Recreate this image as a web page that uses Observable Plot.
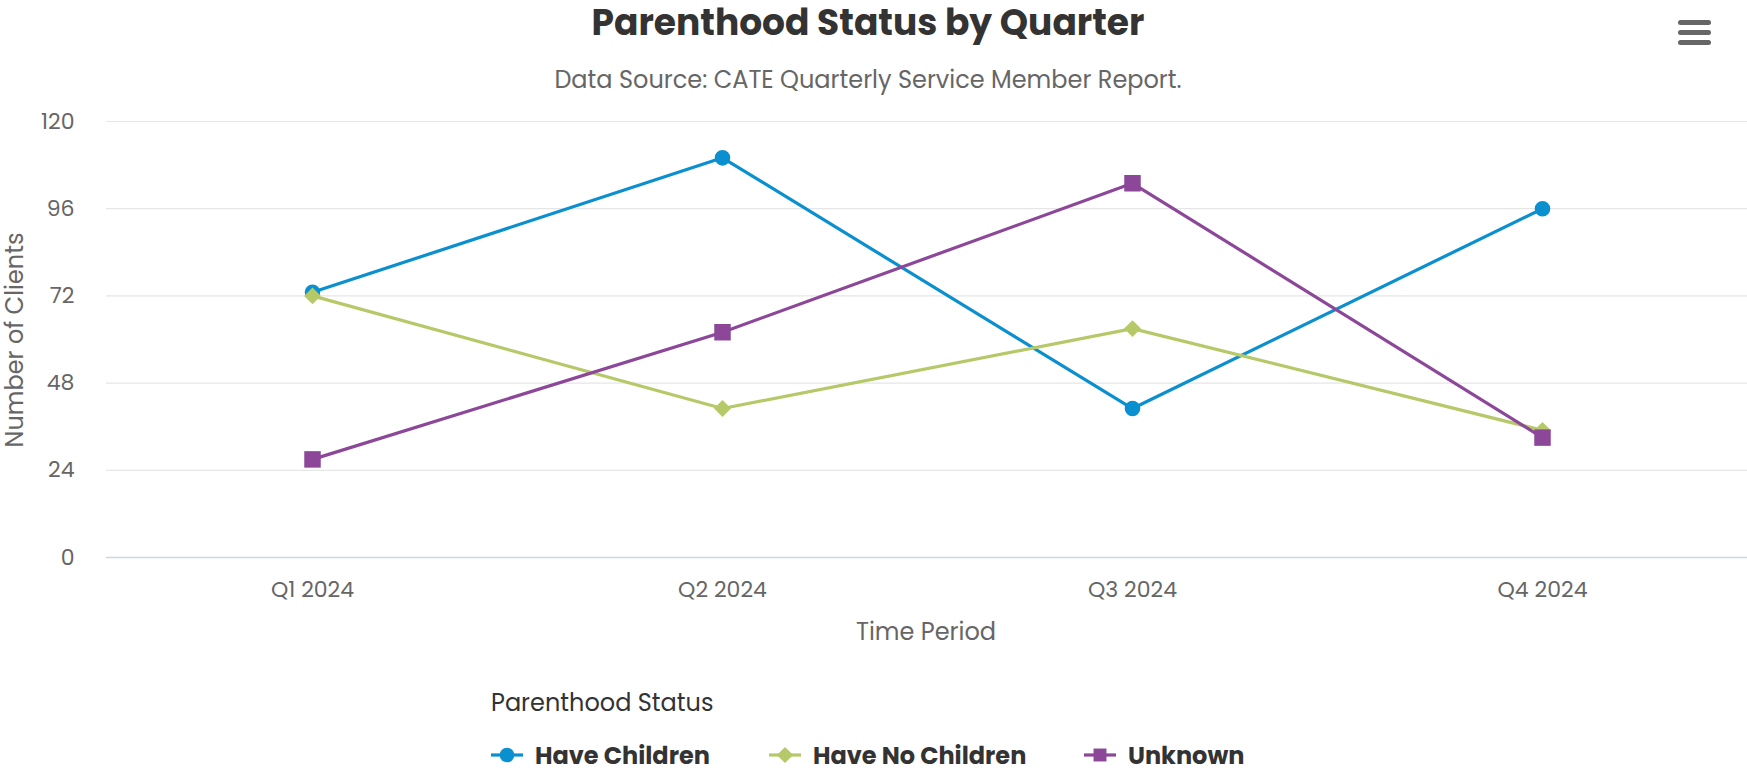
<!DOCTYPE html>
<html><head><meta charset="utf-8">
<script src="https://cdn.jsdelivr.net/npm/d3@7"></script>
<script src="https://cdn.jsdelivr.net/npm/@observablehq/plot@0.6"></script>
<style>
body{margin:0;background:#fff;font-family:Poppins,Inter,sans-serif;}
#wrap{position:relative;width:1747px;height:771px;overflow:hidden;background:#fff;}
.abs{position:absolute;white-space:nowrap;}
#title{left:0;width:1736px;top:4px;text-align:center;font-size:36px;font-weight:700;color:#333;line-height:38px;}
#subtitle{left:0;width:1736px;top:64px;text-align:center;font-size:24px;color:#666;line-height:32px;}
#ytitle{left:15px;top:340px;transform:translate(-50%,-50%) rotate(-90deg);font-size:24px;color:#666;line-height:24px;}
#xtitle{left:926px;top:632px;transform:translate(-50%,-50%);font-size:24px;color:#666;line-height:28px;}
#chart{position:absolute;left:0;top:100px;}
#legtitle{left:491px;top:703px;transform:translateY(-50%);font-size:24px;color:#333;line-height:28px;}
.item{position:absolute;top:741px;height:28px;display:flex;align-items:center;font-size:24px;font-weight:700;color:#333;}
.item svg{margin-right:12px;}
#menu{position:absolute;left:1678px;top:20px;width:33px;}
#menu div{height:5px;border-radius:3px;background:#666;margin-bottom:5px;}
</style></head><body>
<div id="wrap">
 <div id="title" class="abs">Parenthood Status by Quarter</div>
 <div id="subtitle" class="abs">Data Source: CATE Quarterly Service Member Report.</div>
 <div id="menu"><div></div><div></div><div></div></div>
 <div id="ytitle" class="abs">Number of Clients</div>
 <div id="xtitle" class="abs">Time Period</div>
 <div id="chart"></div>
 <div id="legtitle" class="abs">Parenthood Status</div>
</div>
<script>
const quarters = ["Q1 2024", "Q2 2024", "Q3 2024", "Q4 2024"];
const seriesNames = ["Have Children", "Have No Children", "Unknown"];
const haveChildren = [73, 110, 41, 96];
const haveNoChildren = [72, 41, 63, 35];
const unknown = [27, 62, 103, 33];
const seriesColors = ["#0a8fcf", "#b6c969", "#8c4799"];
const seriesSymbols = ["circle", "diamond2", "square"];
const yTicks = [0, 24, 48, 72, 96, 120];

const rows = [];
[haveChildren, haveNoChildren, unknown].forEach((vals, i) =>
  vals.forEach((v, j) => rows.push({series: seriesNames[i], quarter: quarters[j], value: v})));

const symR = {circle: 7.8, diamond2: 7.6, square: 9.3};

const chart = Plot.plot({
  width: 1747, height: 560,
  marginTop: 21, marginBottom: 103, marginLeft: 106, marginRight: 0,
  style: {fontFamily: "Poppins, Inter, sans-serif", background: "transparent", overflow: "visible"},
  x: {type: "point", domain: quarters, padding: 0.5, label: null},
  y: {domain: [0, 120], label: null},
  color: {domain: seriesNames, range: seriesColors},
  marks: [
    Plot.gridY(yTicks, {stroke: "#e6e6e6", strokeOpacity: 1, strokeWidth: 1.2}),
    Plot.ruleY([0], {stroke: "#ccd6eb", strokeWidth: 1.5}),
    Plot.axisY(yTicks, {tickSize: 0, tickPadding: 32, fontSize: 22, color: "#666", label: null}),
    Plot.axisX(quarters, {tickSize: 0, tickPadding: 24, fontSize: 22, color: "#666", label: null}),
    Plot.line(rows, {x: "quarter", y: "value", z: "series", stroke: "series", strokeWidth: 3.2}),
    ...seriesNames.map((s, i) => Plot.dot(rows.filter(d => d.series === s), {
      x: "quarter", y: "value", fill: "series", symbol: () => seriesSymbols[i], r: symR[seriesSymbols[i]]
    }))
  ]
});
document.getElementById("chart").appendChild(chart);

// legend built from the series arrays
const wrap = document.getElementById("wrap");
const legLeft = [491, 769, 1084];
seriesNames.forEach((s, i) => {
  const item = document.createElement("div");
  item.className = "item";
  item.style.left = legLeft[i] + "px";
  const svg = d3.create("svg").attr("width", 32).attr("height", 20);
  svg.append("line").attr("x1", 0).attr("x2", 32).attr("y1", 10).attr("y2", 10)
    .attr("stroke", seriesColors[i]).attr("stroke-width", 3.2);
  const sym = {circle: d3.symbolCircle, diamond2: d3.symbolDiamond2, square: d3.symbolSquare}[seriesSymbols[i]];
  svg.append("path").attr("transform", "translate(16,10)")
    .attr("d", d3.symbol(sym, Math.PI * 7.3 * 7.3)()).attr("fill", seriesColors[i]);
  item.appendChild(svg.node());
  const t = document.createElement("span");
  t.textContent = s;
  item.appendChild(t);
  wrap.appendChild(item);
});
</script>
</body></html>
